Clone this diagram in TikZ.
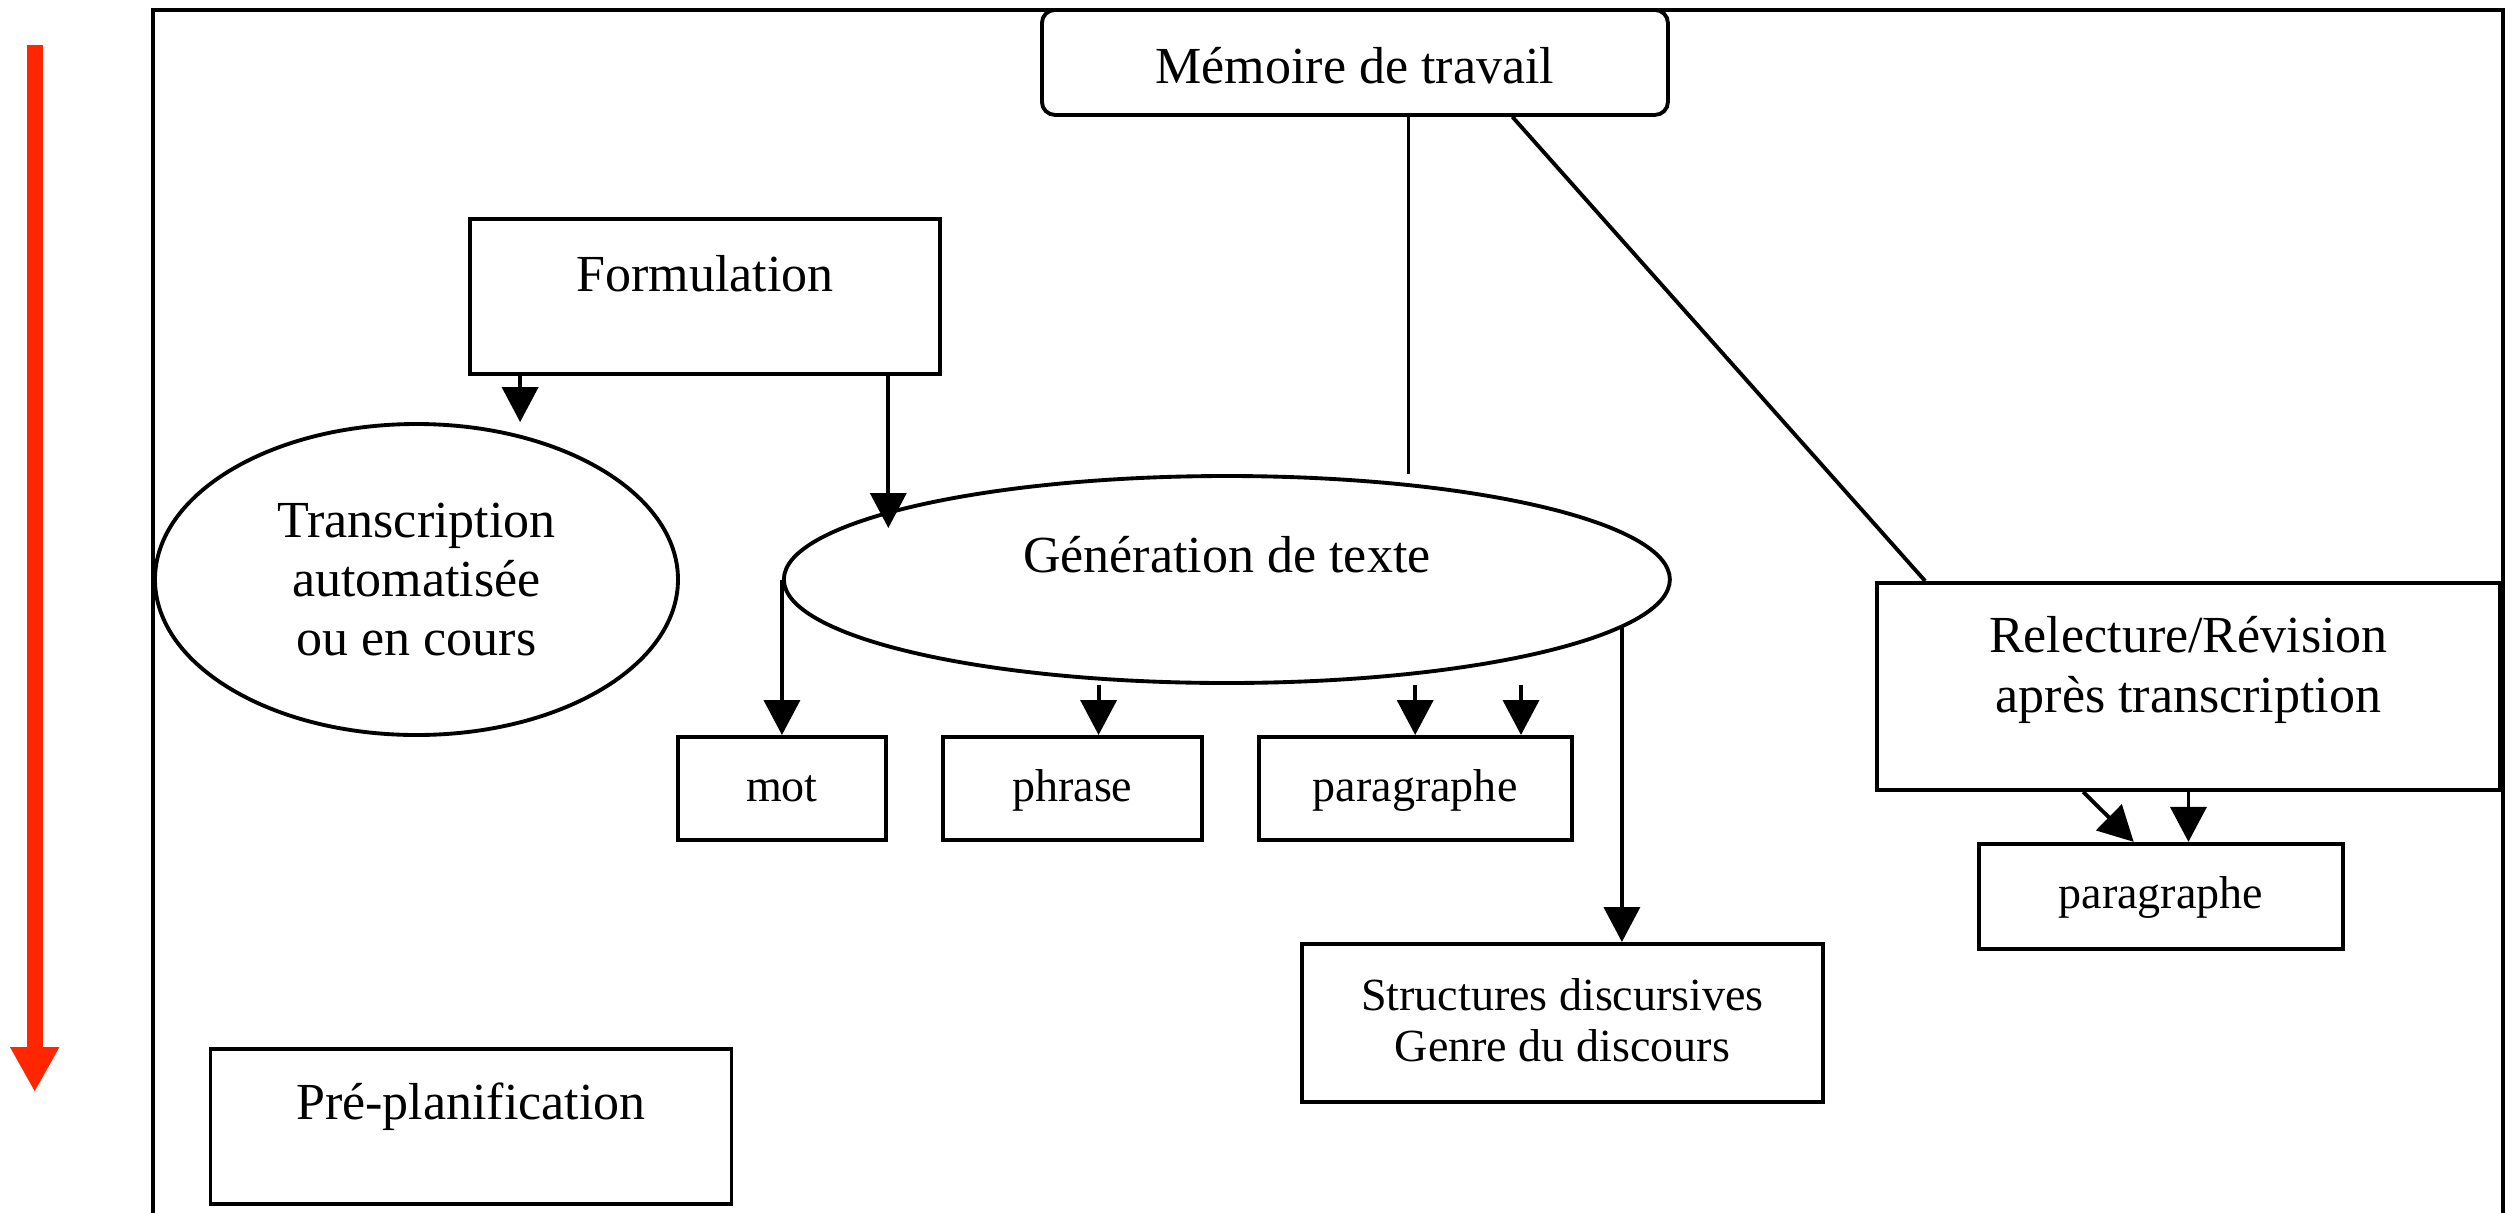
\documentclass[tikz,border=0pt]{standalone}
\usepackage{fontspec}
\setmainfont{Liberation Serif}
\usepackage{tikz}
\usetikzlibrary{calc,positioning,shapes.geometric,arrows.meta}
\definecolor{downred}{RGB}{255,38,0}

\begin{document}
\begin{tikzpicture}
	[node distance=0.53cm, line width=1.1pt,
	box/.style={draw, rectangle, inner sep=0pt, font=\fontsize{14.8}{17.07}\selectfont},
	smallbox/.style={box, font=\fontsize{13.1}{14.5}\selectfont, text height=0.65cm, text depth=0.38cm},
	oval/.style={draw, ellipse, inner sep=0pt, align=center, font=\fontsize{14.8}{16.9}\selectfont},
	arr/.style={-{Triangle[length=0.35cm, width=0.36cm]}},
	downarrow/.style={downred, line width=0.16cm, -{Triangle[length=0.45cm, width=0.46cm]}}]
	\useasboundingbox (0,0) rectangle (25.14,-12.12);
	\draw (1.53,-12.3) -- (1.53,-0.10) -- (25.03,-0.10) -- (25.03,-12.3);
	\coordinate (t1) at (0.347,-0.45);
	\coordinate (t2) at (0.347,-10.92);
	\draw[downarrow] (t1) -- (t2);

	\node[box, rounded corners=0.13cm, anchor=north west, minimum width=6.26cm, text height=0.74cm, text depth=0.31cm] (1) at (10.40,-0.08) {Mémoire de travail};
	\node[box, anchor=north west, minimum width=4.70cm, text height=0.73cm, text depth=0.82cm] (2) at (4.68,-2.17) {Formulation};
	\node[oval, minimum width=5.23cm, minimum height=3.11cm] (3) at (4.165,-5.795) {Transcription\\automatisée\\ou en cours};
	\node[oval, right=1.02cm of 3, minimum width=8.86cm, minimum height=2.07cm, text height=0.30cm, text depth=0.45cm] (4) {Génération de texte};
	\node[smallbox, anchor=north west, minimum width=2.08cm] (5) at (6.76,-7.35) {mot};
	\node[smallbox, right=of 5, minimum width=2.59cm] (6) {phrase};
	\node[smallbox, right=of 6, minimum width=3.13cm] (7) {paragraphe};
	\node[smallbox, anchor=north west, minimum width=5.21cm, text height=0.67cm, text depth=0.91cm] (8) at (13.00,-9.42) {\begin{tabular}[t]{@{}c@{}}Structures discursives\\Genre du discours\end{tabular}};
	\node[box, anchor=north west, minimum width=6.23cm, text height=0.70cm, text depth=1.37cm] (9) at (18.75,-5.81) {\begin{tabular}[t]{@{}c@{}}Relecture/Révision\\après transcription\end{tabular}};
	\node[smallbox, below=0.5cm of 9, xshift=-0.275cm, minimum width=3.64cm, text depth=0.40cm] (10) {paragraphe};
	\node[box, anchor=north west, minimum width=5.21cm, text height=0.71cm, text depth=0.84cm] (11) at (2.085,-10.47) {Pré-planification};

	\coordinate (m1) at ($(1.south west)!0.585!(1.south east)$);
	\coordinate (m2) at ($(1.south west)!0.75!(1.south east)$);
	\coordinate (r1) at ($(9.north west)!0.08!(9.north east)$);
	\coordinate (f1) at ($(2.south west)!0.11!(2.south east)$);
	\coordinate (f2) at ($(2.south west)!0.887!(2.south east)$);
	\coordinate (g1) at (8.85,-5.28);
	\coordinate (p1) at ($(6.north west)!0.6!(6.north east)$);
	\coordinate (p2) at ($(7.north west)!0.834!(7.north east)$);
	\coordinate (r2) at ($(9.south west)!0.332!(9.south east)$);
	\coordinate (q1) at ($(10.north west)!0.426!(10.north east)$);

	\draw (m1) -- (m1 |- 4.north);
	\draw (m2) -- (r1);
	\draw[arr] (f1) -- (f1 |- 3.north);
	\draw[arr] (f2) -- (f2 |- g1);
	\draw[arr] (4.west) -- (4.west |- 5.north);
	\draw[arr] (4.south -| p1) -- (p1);
	\draw[arr] (4.south -| 7.north) -- (7.north);
	\draw[arr] (4.south -| p2) -- (p2);
	\draw[arr] (4.353) -- (4.353 |- 8.north);
	\draw[arr] (r2) -- (q1);
	\draw[arr] (9.south) -- (9.south |- 10.north);
\end{tikzpicture}
\end{document}
